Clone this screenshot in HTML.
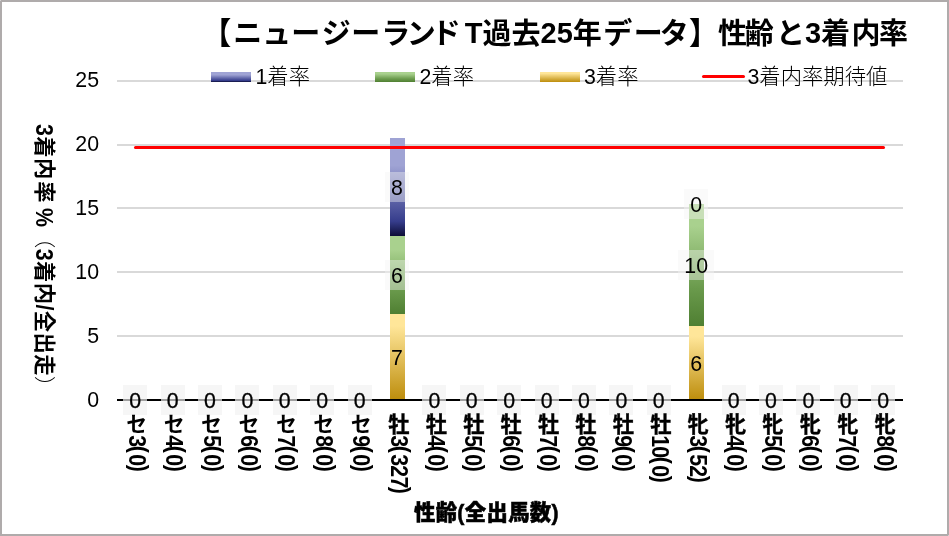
<!DOCTYPE html><html lang="ja"><head><meta charset="utf-8"><title>chart</title><style>
html,body{margin:0;padding:0;background:#fff}
body{width:949px;height:536px;position:relative;overflow:hidden;font-family:"Liberation Sans","Noto Sans CJK JP",sans-serif;color:#000}
.a{position:absolute}
.frame{left:0;top:0;width:949px;height:536px;box-sizing:border-box;border:2px solid #afabab}
.g{left:117px;width:786px;height:2px;background:#d9d9d9}
.ax{left:117px;width:786px;height:2px;background:#000;top:399px}
.yl{width:60px;left:39.1px;text-align:right;font-size:21.33px;line-height:24px;height:24px}
.title{left:0;top:14px;width:949px;font-weight:bold;font-size:29px;line-height:40px;white-space:nowrap}
.title span{position:relative}
.lg{font-size:21.33px;line-height:24px;height:24px;white-space:nowrap;font-weight:300}
.sw{height:10px;width:40px;top:72px}
.dl{font-size:21.33px;line-height:32px;height:30px;text-align:center}
.bx{background:rgba(242,242,242,.42)}.bx2{background:rgba(242,242,242,.66);-webkit-text-stroke:0.3px #000}
.xl{writing-mode:vertical-rl;text-orientation:mixed;font-weight:bold;font-size:21.33px;line-height:24px;width:24px;white-space:nowrap;top:413px}
.xl .k{font-weight:700;-webkit-text-stroke:0.4px #000}
.xl .d{display:inline-block;letter-spacing:-0.8px;transform:translate(1.8px,1.3px) scaleX(1.15);transform-origin:50% 50%}.xl .p{display:inline-block;transform:translate(3.8px,0.7px) scaleX(1.078);transform-origin:50% 50%}.xl .s{font-weight:bold;font-size:21.33px;display:inline-block;transform:translate(-0.5px,0.6px)}
.xt{font-weight:900;font-size:21.33px;line-height:26px;white-space:nowrap;letter-spacing:0.35px;-webkit-text-stroke:0.5px #000}
.yt{font-weight:bold;font-size:21.33px;line-height:26px;white-space:nowrap;transform-origin:0 0;transform:rotate(90deg)}
.yt{letter-spacing:.4px}.yt .L{display:inline-block;transform:scaleY(1.15);transform-origin:50% 62%}.yt .P{font-weight:300}
.b1{background:linear-gradient(180deg,#9fa3d4 0%,#9fa3d4 28%,#363d8c 85%,#0c0d36 100%)}
.b2{background:linear-gradient(180deg,#a9d18e 0%,#a9d18e 18%,#6a9a4c 69%,#4f7f32 100%)}
.b3{background:linear-gradient(180deg,#ffe699 0%,#ffe699 14%,#bd8d0c 100%)}
.b1l{background:linear-gradient(180deg,#9fa5d5,#2d3278)}.b2l{background:linear-gradient(180deg,#a9d18e,#548235)}.b3l{background:linear-gradient(180deg,#ffe699,#bf9000)}</style></head><body>
<div class="a g" style="top:80px"></div>
<div class="a g" style="top:144px"></div>
<div class="a g" style="top:207px"></div>
<div class="a g" style="top:271px"></div>
<div class="a g" style="top:335px"></div>
<div class="a yl" style="top:388.4px">0</div>
<div class="a yl" style="top:324.4px">5</div>
<div class="a yl" style="top:260.4px">10</div>
<div class="a yl" style="top:196.3px">15</div>
<div class="a yl" style="top:132.3px">20</div>
<div class="a yl" style="top:68.3px">25</div>
<div class="a b3" style="left:390.0px;width:15px;top:314.0px;height:86.0px"></div>
<div class="a b2" style="left:390.0px;width:15px;top:236.0px;height:78.0px"></div>
<div class="a b1" style="left:390.0px;width:15px;top:138.0px;height:98.0px"></div>
<div class="a b3" style="left:689.0px;width:15px;top:326.0px;height:74.0px"></div>
<div class="a b2" style="left:689.0px;width:15px;top:204.0px;height:122.0px"></div>
<div class="a ax"></div>
<div class="a" style="left:134px;width:751px;top:146px;height:3px;border-radius:1.5px;background:#ff0000"></div>
<div class="a dl bx2" style="left:123.2px;width:24px;top:385.0px">0</div>
<div class="a dl bx2" style="left:160.6px;width:24px;top:385.0px">0</div>
<div class="a dl bx2" style="left:198.0px;width:24px;top:385.0px">0</div>
<div class="a dl bx2" style="left:235.4px;width:24px;top:385.0px">0</div>
<div class="a dl bx2" style="left:272.8px;width:24px;top:385.0px">0</div>
<div class="a dl bx2" style="left:310.2px;width:24px;top:385.0px">0</div>
<div class="a dl bx2" style="left:347.6px;width:24px;top:385.0px">0</div>
<div class="a dl bx2" style="left:422.4px;width:24px;top:385.0px">0</div>
<div class="a dl bx2" style="left:459.8px;width:24px;top:385.0px">0</div>
<div class="a dl bx2" style="left:497.2px;width:24px;top:385.0px">0</div>
<div class="a dl bx2" style="left:534.6px;width:24px;top:385.0px">0</div>
<div class="a dl bx2" style="left:572.0px;width:24px;top:385.0px">0</div>
<div class="a dl bx2" style="left:609.4px;width:24px;top:385.0px">0</div>
<div class="a dl bx2" style="left:646.8px;width:24px;top:385.0px">0</div>
<div class="a dl bx2" style="left:721.6px;width:24px;top:385.0px">0</div>
<div class="a dl bx2" style="left:759.0px;width:24px;top:385.0px">0</div>
<div class="a dl bx2" style="left:796.4px;width:24px;top:385.0px">0</div>
<div class="a dl bx2" style="left:833.8px;width:24px;top:385.0px">0</div>
<div class="a dl bx2" style="left:871.2px;width:24px;top:385.0px">0</div>
<div class="a dl " style="left:385.0px;width:24px;top:342.1px">7</div>
<div class="a dl bx" style="left:385.0px;width:24px;top:260.1px">6</div>
<div class="a dl bx" style="left:385.0px;width:24px;top:172.2px">8</div>
<div class="a dl " style="left:684.2px;width:24px;top:348.2px">6</div>
<div class="a dl bx" style="left:678.2px;width:36px;top:250.0px">10</div>
<div class="a dl bx" style="left:684.2px;width:24px;top:188.6px">0</div>
<div class="a xl" style="left:122.7px"><span class="s">セ</span><span class="d">3</span><span class="p">(</span><span class="d">0</span><span class="p">)</span></div>
<div class="a xl" style="left:160.1px"><span class="s">セ</span><span class="d">4</span><span class="p">(</span><span class="d">0</span><span class="p">)</span></div>
<div class="a xl" style="left:197.5px"><span class="s">セ</span><span class="d">5</span><span class="p">(</span><span class="d">0</span><span class="p">)</span></div>
<div class="a xl" style="left:234.9px"><span class="s">セ</span><span class="d">6</span><span class="p">(</span><span class="d">0</span><span class="p">)</span></div>
<div class="a xl" style="left:272.3px"><span class="s">セ</span><span class="d">7</span><span class="p">(</span><span class="d">0</span><span class="p">)</span></div>
<div class="a xl" style="left:309.7px"><span class="s">セ</span><span class="d">8</span><span class="p">(</span><span class="d">0</span><span class="p">)</span></div>
<div class="a xl" style="left:347.1px"><span class="s">セ</span><span class="d">9</span><span class="p">(</span><span class="d">0</span><span class="p">)</span></div>
<div class="a xl" style="left:384.5px"><span class="k">牡</span><span class="d">3</span><span class="p">(</span><span class="d">327</span><span class="p">)</span></div>
<div class="a xl" style="left:421.9px"><span class="k">牡</span><span class="d">4</span><span class="p">(</span><span class="d">0</span><span class="p">)</span></div>
<div class="a xl" style="left:459.3px"><span class="k">牡</span><span class="d">5</span><span class="p">(</span><span class="d">0</span><span class="p">)</span></div>
<div class="a xl" style="left:496.7px"><span class="k">牡</span><span class="d">6</span><span class="p">(</span><span class="d">0</span><span class="p">)</span></div>
<div class="a xl" style="left:534.1px"><span class="k">牡</span><span class="d">7</span><span class="p">(</span><span class="d">0</span><span class="p">)</span></div>
<div class="a xl" style="left:571.5px"><span class="k">牡</span><span class="d">8</span><span class="p">(</span><span class="d">0</span><span class="p">)</span></div>
<div class="a xl" style="left:608.9px"><span class="k">牡</span><span class="d">9</span><span class="p">(</span><span class="d">0</span><span class="p">)</span></div>
<div class="a xl" style="left:646.3px"><span class="k">牡</span><span class="d">10</span><span class="p">(</span><span class="d">0</span><span class="p">)</span></div>
<div class="a xl" style="left:683.7px"><span class="k">牝</span><span class="d">3</span><span class="p">(</span><span class="d">52</span><span class="p">)</span></div>
<div class="a xl" style="left:721.1px"><span class="k">牝</span><span class="d">4</span><span class="p">(</span><span class="d">0</span><span class="p">)</span></div>
<div class="a xl" style="left:758.5px"><span class="k">牝</span><span class="d">5</span><span class="p">(</span><span class="d">0</span><span class="p">)</span></div>
<div class="a xl" style="left:795.9px"><span class="k">牝</span><span class="d">6</span><span class="p">(</span><span class="d">0</span><span class="p">)</span></div>
<div class="a xl" style="left:833.3px"><span class="k">牝</span><span class="d">7</span><span class="p">(</span><span class="d">0</span><span class="p">)</span></div>
<div class="a xl" style="left:870.7px"><span class="k">牝</span><span class="d">8</span><span class="p">(</span><span class="d">0</span><span class="p">)</span></div>
<div class="a title" style="left:204.3px"><span style="left:-2px;display:inline-block;transform:translateY(-0.6px) scaleY(1.06);transform-origin:50% 50%;">【</span>ニュー<span style="left:2px;">ジ</span><span style="left:2.4px;">ー</span><span style="left:3.6px;">ラ</span>ン<span style="left:-4px;">ド</span><span style="top:-1.2px;">T</span>過去<span style="top:-1px;">25</span>年<span style="left:1.4px;">デ</span><span style="left:3px;">ー</span>タ<span style="display:inline-block;transform:translateY(-0.6px) scaleY(1.06);transform-origin:50% 50%;">】</span>性<span style="left:-2.2px;">齢</span>と<span style="top:-1px;">3</span>着<span style="left:1.5px;">内</span>率</div>
<div class="a sw b1" style="left:211px"></div>
<div class="a lg" style="left:255.5px;top:65px">1着率</div>
<div class="a sw b2" style="left:375px"></div>
<div class="a lg" style="left:419.5px;top:65px">2着率</div>
<div class="a sw b3" style="left:540px"></div>
<div class="a lg" style="left:584px;top:65px">3着率</div>
<div class="a" style="left:702px;width:43px;top:74.7px;height:3px;border-radius:1.5px;background:#ff0000"></div>
<div class="a lg" style="left:747.5px;top:65px">3着内率期待値</div>
<div class="a xt" style="left:414px;top:500px">性齢(全出馬数)</div>
<div class="a yt" style="left:57px;top:124px"><span class="L">3</span>着内<span style="margin-left:1.5px">率</span> <span class="L" style="margin-left:-1.2px">%</span> <span class="P" style="margin-left:-6.8px">（</span><span class="L">3</span>着内<span class="L">/</span>全出走<span class="P">）</span></div>
<div class="a frame"></div>
<div class="a" style="left:0;top:0;width:1px;height:1px;background:#d3d1d1"></div><div class="a" style="left:948px;top:535px;width:1px;height:1px;background:#d3d1d1"></div>
</body></html>
